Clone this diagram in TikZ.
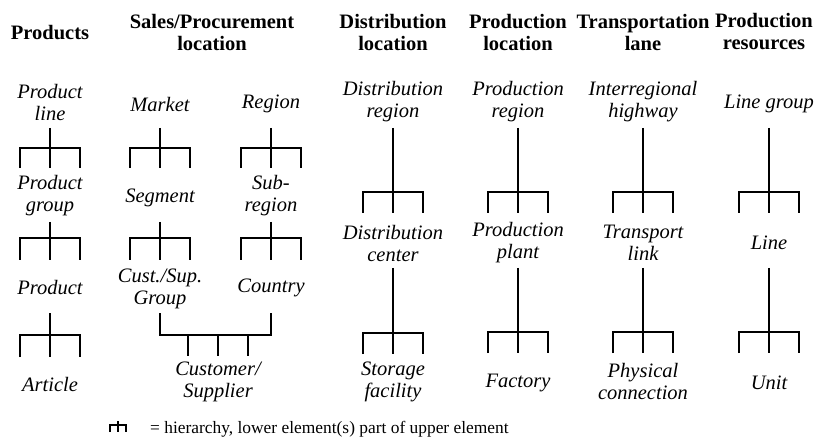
\documentclass[tikz,border=0pt]{standalone}
\usepackage{fontspec}
\setmainfont{Liberation Serif}
\begin{document}
\begin{tikzpicture}[x=1pt,y=-1pt,
  head/.style={font=\fontsize{20.5}{22}\selectfont\bfseries, align=center, inner sep=0pt},
  item/.style={font=\fontsize{20.5}{22}\selectfont\itshape, align=center, inner sep=0pt},
  link/.style={line width=1.7pt, line cap=butt, line join=miter},
  thin link/.style={line width=1.1pt}]
\useasboundingbox (0,0) rectangle (815,441);

% column headings
\node[head] (hProd)  at (50,33)  {Products};
\node[head] (hSales) at (212,32) {Sales/Procurement\\location};
\node[head] (hDist)  at (393,32) {Distribution\\location};
\node[head] (hPLoc)  at (518,32) {Production\\location};
\node[head] (hTrans) at (643,32) {Transportation\\lane};
\node[head] (hRes)   at (764,32) {Production\\resources};

% products
\node[item] (pline)  at (50,102) {Product\\line};
\node[item] (pgroup) at (50,196) {Product\\group};
\node[item] (prod)   at (50,288) {Product};
\node[item] (art)    at (50,384) {Article};

% sales / procurement
\node[item] (market) at (160,104) {Market};
\node[item] (seg)    at (160,198) {Segment};
\node[item] (csg)    at (160,289) {Cust./Sup.\\Group};
\node[item] (region) at (271,104) {Region};
\node[item] (subreg) at (271,196) {Sub-\\region};
\node[item] (ctry)   at (271,288) {Country};
\node[item] (cust)   at (218,382) {Customer/\\Supplier};

% distribution
\node[item] (dreg)   at (393,102) {Distribution\\region};
\node[item] (dcent)  at (393,243) {Distribution\\center};
\node[item] (store)  at (393,382) {Storage\\facility};

% production
\node[item] (preg)   at (518,102) {Production\\region};
\node[item] (plant)  at (518,243) {Production\\plant};
\node[item] (fact)   at (518,383) {Factory};

% transportation
\node[item] (hwy)    at (643,102) {Interregional\\highway};
\node[item] (tlink)  at (643,243) {Transport\\link};
\node[item] (phys)   at (643,381) {Physical\\connection};

% production resources
\node[item] (lgrp)   at (769,104) {Line group};
\node[item] (line)   at (769,243) {Line};
\node[item] (unit)   at (769,383) {Unit};

% fork: #1 upper node, #2 lower node, #3 stem top, #4 bar, #5 leg ends
\newcommand\hierfork[5]{%
  \draw[link] (#1 |- 0,#3) -- (#2 |- 0,#5);
  \draw[link] ([xshift=-30pt]#2 |- 0,#5) -- ([xshift=-30pt]#2 |- 0,#4)
              -- ([xshift=30pt]#2 |- 0,#4) -- ([xshift=30pt]#2 |- 0,#5);}

\hierfork{pline}{pgroup}{128}{148}{168}
\hierfork{pgroup}{prod}{222}{238}{260}
\hierfork{prod}{art}{313}{335}{357}

\hierfork{market}{seg}{128}{148}{168}
\hierfork{seg}{csg}{222}{238}{260}
\hierfork{region}{subreg}{128}{148}{168}
\hierfork{subreg}{ctry}{222}{238}{260}

\hierfork{dreg}{dcent}{128}{192}{213}
\hierfork{dcent}{store}{268}{333}{354}
\hierfork{preg}{plant}{128}{192}{213}
\hierfork{plant}{fact}{268}{332}{353}
\hierfork{hwy}{tlink}{128}{192}{213}
\hierfork{tlink}{phys}{268}{332}{353}
\hierfork{lgrp}{line}{128}{192}{213}
\hierfork{line}{unit}{268}{332}{353}

% customer/supplier has two parents
\draw[link] (csg |- 0,313) -- (csg |- 0,335) -- (ctry |- 0,335) -- (ctry |- 0,313);
\draw[link] ([xshift=-30pt]cust |- 0,335) -- ([xshift=-30pt]cust |- 0,356);
\draw[link] (cust |- 0,335) -- (cust |- 0,356);
\draw[link] ([xshift=30pt]cust |- 0,335) -- ([xshift=30pt]cust |- 0,356);

% legend
\coordinate (sym) at (118,425);
\draw[thin link] ([yshift=4pt]sym) -- ([yshift=-7pt]sym);
\draw[thin link] ([xshift=-8pt,yshift=-7pt]sym) -- ([xshift=-8pt]sym) -- ([xshift=8pt]sym) -- ([xshift=8pt,yshift=-7pt]sym);
\node[font=\fontsize{17.4}{19}\selectfont, anchor=base west, inner sep=0pt] (legend) at (150,433)
  {= hierarchy, lower element(s) part of upper element};
\end{tikzpicture}
\end{document}
